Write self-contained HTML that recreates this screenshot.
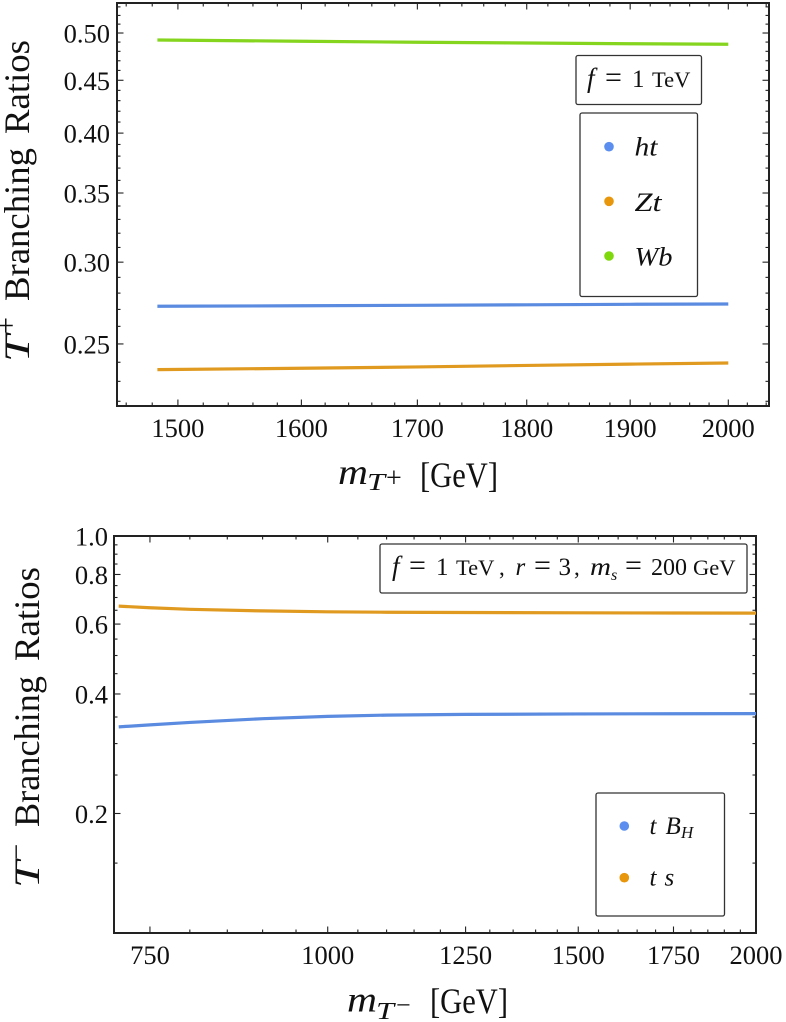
<!DOCTYPE html>
<html lang="en">
<head>
<meta charset="utf-8">
<title>T+ and T- Branching Ratios</title>
<style>
html,body{margin:0;padding:0;background:#fff;width:786px;height:1022px;overflow:hidden}
svg{display:block;font-family:"Liberation Serif",serif;fill:#111}
.it{font-style:italic}
</style>
</head>
<body>
<svg id="figure" width="786" height="1022" viewBox="0 0 786 1022" xmlns="http://www.w3.org/2000/svg">
  <rect x="0" y="0" width="786" height="1022" fill="#fff"/>
  <g id="top-chart"></g>
  <g id="bottom-chart"></g>

  <g>
    <text class="it" transform="translate(29,362) rotate(-90)" font-size="36" textLength="27" lengthAdjust="spacingAndGlyphs">T</text>
    <text transform="translate(15.5,334) rotate(-90)" font-size="30">+</text>
    <text transform="translate(29,301) rotate(-90)" font-size="36" textLength="153" lengthAdjust="spacingAndGlyphs">Branching</text>
    <text transform="translate(29,134) rotate(-90)" font-size="36" textLength="94" lengthAdjust="spacingAndGlyphs">Ratios</text>
  </g>
  <g>
    <text class="it" x="338" y="484" font-size="36" textLength="30" lengthAdjust="spacingAndGlyphs">m</text>
    <text class="it" x="367" y="490" font-size="24" textLength="18" lengthAdjust="spacingAndGlyphs">T</text>
    <text x="386" y="487" font-size="28">+</text>
    <text x="420" y="487" font-size="36" textLength="78" lengthAdjust="spacingAndGlyphs">[GeV]</text>
  </g>

  <g>
    <rect x="576" y="55.5" width="125.5" height="49" rx="2" fill="#fff" stroke="#333" stroke-width="1.3"/>
    <text y="87"><tspan class="it" x="587" font-size="27">f</tspan><tspan x="605" font-size="30">=</tspan><tspan x="632" font-size="25">1</tspan><tspan x="652" font-size="22.5">TeV</tspan></text>
  </g>
  <g>
    <rect x="580" y="113" width="117.5" height="183.5" rx="2" fill="#fff" stroke="#333" stroke-width="1.3"/>
    <g>
      <circle cx="609" cy="146.7" r="4.8" fill="#5b8eee"/>
      <text class="it" x="634.5" y="155.5" font-size="26" textLength="23" lengthAdjust="spacingAndGlyphs">ht</text>
    </g>
    <g>
      <circle cx="609" cy="201.3" r="4.8" fill="#e8960c"/>
      <text class="it" x="634.5" y="211" font-size="26" textLength="27" lengthAdjust="spacingAndGlyphs">Zt</text>
    </g>
    <g>
      <circle cx="609" cy="256" r="4.8" fill="#7fd80c"/>
      <text class="it" x="634.5" y="265.5" font-size="26" textLength="38" lengthAdjust="spacingAndGlyphs">Wb</text>
    </g>
  </g>

  <g>
    <text class="it" transform="translate(39,888) rotate(-90)" font-size="36" textLength="27" lengthAdjust="spacingAndGlyphs">T</text>
    <text transform="translate(25.7,859.6) rotate(-90)" font-size="28">&#8722;</text>
    <text transform="translate(39,827) rotate(-90)" font-size="36" textLength="151" lengthAdjust="spacingAndGlyphs">Branching</text>
    <text transform="translate(39,661) rotate(-90)" font-size="36" textLength="94" lengthAdjust="spacingAndGlyphs">Ratios</text>
  </g>
  <g>
    <text class="it" x="347" y="1011.7" font-size="36" textLength="30" lengthAdjust="spacingAndGlyphs">m</text>
    <text class="it" x="376" y="1019" font-size="24" textLength="18" lengthAdjust="spacingAndGlyphs">T</text>
    <text x="396" y="1013.3" font-size="26">&#8722;</text>
    <text x="430" y="1013" font-size="36" textLength="78" lengthAdjust="spacingAndGlyphs">[GeV]</text>
  </g>

  <g>
    <rect x="380" y="544" width="367" height="49" rx="2" fill="#fff" stroke="#333" stroke-width="1.3"/>
    <text y="575"><tspan class="it" x="392" font-size="27">f</tspan><tspan x="409" font-size="30">=</tspan><tspan x="436" font-size="25">1</tspan><tspan x="456" font-size="22.5">TeV</tspan><tspan x="499" font-size="23">,</tspan><tspan class="it" x="515.5" font-size="25">r</tspan><tspan x="534" font-size="30">=</tspan><tspan x="558.5" font-size="25">3</tspan><tspan x="574" font-size="23">,</tspan><tspan x="625" font-size="30">=</tspan><tspan x="651" font-size="24">200</tspan><tspan x="693" font-size="22.5">GeV</tspan></text>
    <text class="it" x="590" y="575" font-size="25" textLength="21" lengthAdjust="spacingAndGlyphs">m</text>
    <text class="it" x="611" y="580" font-size="16">s</text>
  </g>
  <g>
    <rect x="596" y="793" width="128.5" height="123" rx="2" fill="#fff" stroke="#333" stroke-width="1.3"/>
    <g>
      <circle cx="624.3" cy="826" r="4.8" fill="#5b8eee"/>
      <text class="it" y="834"><tspan x="649.5" font-size="25">t</tspan><tspan x="665.5" font-size="25">B</tspan><tspan x="681" y="838" font-size="17">H</tspan></text>
    </g>
    <g>
      <circle cx="624.3" cy="877.7" r="4.8" fill="#e8960c"/>
      <text class="it" font-size="25" y="885.5"><tspan x="649.5">t</tspan><tspan x="664.5">s</tspan></text>
    </g>
  </g>
</svg>
<script>
// ---- T+ chart data ----
const topMasses = [1484, 1600, 1700, 1800, 1900, 2000];
const topHt = [0.2719, 0.2722, 0.2725, 0.2728, 0.2731, 0.2733];
const topZt = [0.2361, 0.2368, 0.2375, 0.2383, 0.2390, 0.2396];
const topWb = [0.4923, 0.4909, 0.4898, 0.4890, 0.4882, 0.4876];
const topXTicks = [1500, 1600, 1700, 1800, 1900, 2000];
const topXTickLabels = ['1500', '1600', '1700', '1800', '1900', '2000'];
const topXMinor = [1460, 1480, 1520, 1540, 1560, 1580, 1620, 1640, 1660, 1680, 1720, 1740, 1760, 1780, 1820, 1840, 1860, 1880, 1920, 1940, 1960, 1980, 2020, 2040];
const topYTicks = [0.25, 0.30, 0.35, 0.40, 0.45, 0.50];
const topYTickLabels = ['0.25', '0.30', '0.35', '0.40', '0.45', '0.50'];
const topYMinor = [0.22, 0.23, 0.24, 0.26, 0.27, 0.28, 0.29, 0.31, 0.32, 0.33, 0.34, 0.36, 0.37, 0.38, 0.39, 0.41, 0.42, 0.43, 0.44, 0.46, 0.47, 0.48, 0.49, 0.51, 0.52, 0.53];

// ---- T- chart data ----
const bottomMasses = [713, 750, 800, 900, 1000, 1100, 1250, 1500, 1750, 2000];
const bottomTBh = [0.3305, 0.3344, 0.3392, 0.3466, 0.3512, 0.3539, 0.3553, 0.3563, 0.3567, 0.3570];
const bottomTs = [0.6658, 0.6596, 0.6536, 0.6476, 0.6442, 0.6427, 0.6417, 0.6405, 0.6398, 0.6394];
const bottomXTicks = [750, 1000, 1250, 1500, 1750, 2000];
const bottomXTickLabels = ['750', '1000', '1250', '1500', '1750', '2000'];
const bottomXMinor = [800, 850, 900, 950, 1050, 1100, 1150, 1200, 1300, 1350, 1400, 1450, 1550, 1600, 1650, 1700, 1800, 1850, 1900, 1950];
const bottomYTicks = [0.2, 0.4, 0.6, 0.8, 1.0];
const bottomYTickLabels = ['0.2', '0.4', '0.6', '0.8', '1.0'];
const bottomYMinor = [0.15, 0.25, 0.3, 0.35, 0.45, 0.5, 0.55, 0.65, 0.7, 0.75, 0.85, 0.9, 0.95];

const SVGNS = 'http://www.w3.org/2000/svg';

function make(parent, tag, attrs) {
  const el = document.createElementNS(SVGNS, tag);
  for (const k in attrs) el.setAttribute(k, attrs[k]);
  parent.appendChild(el);
  return el;
}

function logScale(d0, d1, r0, r1) {
  const a = Math.log(d0), b = Math.log(d1);
  return function (v) { return r0 + (Math.log(v) - a) / (b - a) * (r1 - r0); };
}

function drawChart(root, c) {
  const x = logScale(c.xDomain[0], c.xDomain[1], c.left, c.right);
  const y = logScale(c.yDomain[0], c.yDomain[1], c.bottom, c.top);
  const tickColor = '#222';

  function xTick(v, len, w) {
    [[c.bottom, c.bottom - len], [c.top, c.top + len]].forEach(function (p) {
      const el = make(root, 'line', {x1: x(v), x2: x(v), y1: p[0], y2: p[1], stroke: tickColor, 'stroke-width': w});
      
      
    });
  }
  function yTick(v, len, w) {
    [[c.left, c.left + len], [c.right, c.right - len]].forEach(function (p) {
      const el = make(root, 'line', {y1: y(v), y2: y(v), x1: p[0], x2: p[1], stroke: tickColor, 'stroke-width': w});
      
      
    });
  }

  c.xMinor.forEach(function (v) { xTick(v, 3.5, 1.1); });
  c.yMinor.forEach(function (v) { yTick(v, 3.5, 1.1); });
  c.xTicks.forEach(function (v) { xTick(v, 6.5, 1.1); });
  c.yTicks.forEach(function (v) { yTick(v, 6.5, 1.1); });

  c.xTicks.forEach(function (v, i) {
    const t = make(root, 'text', {x: x(v), y: c.xLabelY, 'font-size': c.tickFont, 'text-anchor': 'middle'});
    
    
    t.textContent = c.xLabels[i];
  });
  c.yTicks.forEach(function (v, i) {
    const t = make(root, 'text', {x: c.yLabelX, y: y(v) + 9.5, 'font-size': c.tickFont, 'text-anchor': 'end'});
    
    
    t.textContent = c.yLabels[i];
  });

  const frame = make(root, 'rect', {x: c.left, y: c.top, width: c.right - c.left, height: c.bottom - c.top, fill: 'none', stroke: '#222', 'stroke-width': 2});
  
  

  c.series.forEach(function (s) {
    const pts = c.masses.map(function (m, i) { return x(m).toFixed(2) + ',' + y(s.values[i]).toFixed(2); }).join(' ');
    const line = make(root, 'polyline', {points: pts, fill: 'none', stroke: s.color, 'stroke-width': 3.2, 'stroke-linejoin': 'round'});
    
    
  });
}

drawChart(document.getElementById('top-chart'), {
  left: 117, right: 769, top: 3, bottom: 406,
  xDomain: [1453, 2043], yDomain: [0.2177, 0.5346],
  xTicks: topXTicks, xLabels: topXTickLabels, xMinor: topXMinor,
  yTicks: topYTicks, yLabels: topYTickLabels, yMinor: topYMinor,
  xLabelY: 437, yLabelX: 110, tickFont: 26.5,
  masses: topMasses,
  series: [
    {name: 'line-ht', color: '#5a8be0', values: topHt},
    {name: 'line-zt', color: '#e09a20', values: topZt},
    {name: 'line-wb', color: '#85d41e', values: topWb}
  ]
});

drawChart(document.getElementById('bottom-chart'), {
  left: 114, right: 756, top: 536, bottom: 933,
  xDomain: [707.6, 2000], yDomain: [0.1, 1.0],
  xTicks: bottomXTicks, xLabels: bottomXTickLabels, xMinor: bottomXMinor,
  yTicks: bottomYTicks, yLabels: bottomYTickLabels, yMinor: bottomYMinor,
  xLabelY: 964, yLabelX: 108, tickFont: 26.5,
  masses: bottomMasses,
  series: [
    {name: 'line-t-bh', color: '#5a8be0', values: bottomTBh},
    {name: 'line-t-s', color: '#e09a20', values: bottomTs}
  ]
});
</script>
</body>
</html>
